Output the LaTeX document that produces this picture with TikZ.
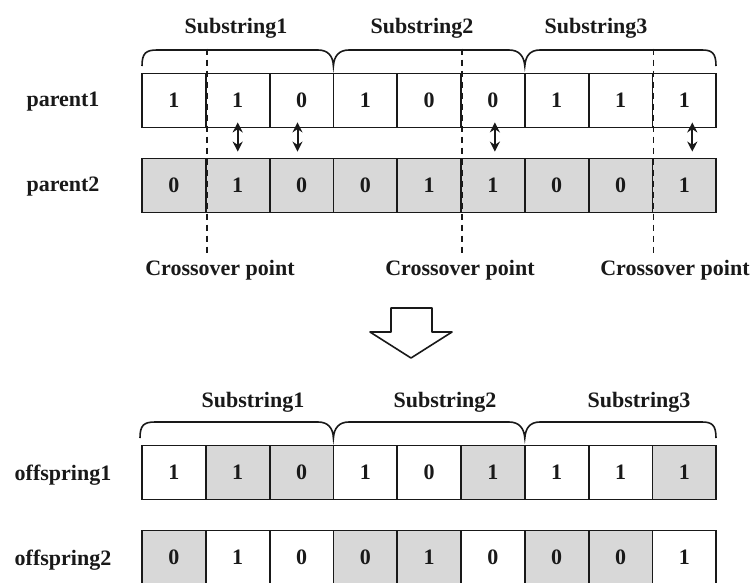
\documentclass[tikz,border=0pt]{standalone}
\usepackage{fontspec}
\setmainfont{Liberation Serif}
\usetikzlibrary{arrows.meta}
\definecolor{shade}{RGB}{216,216,216}
\definecolor{ink}{RGB}{25,25,25}
\begin{document}
\begin{tikzpicture}[x=1pt,y=-1pt,
  txt/.style={font=\fontsize{22}{26}\selectfont\bfseries, inner sep=0pt, text=ink},
  cell/.style={txt, draw=ink, line width=1.8pt, minimum width=63.8pt, minimum height=54pt},
  brace/.style={draw=ink, line width=1.6pt},
  dline/.style={draw=ink, line width=1.6pt, dash pattern=on 6pt off 5pt},
  swap/.style={draw=ink, line width=2pt, {Stealth[length=10pt,width=10pt]}-{Stealth[length=10pt,width=10pt]}}
]
\useasboundingbox[fill=white] (0,0) rectangle (754,582);

% row labels
\node[txt] (lp1) at (63,102) {parent1};
\node[txt] (lp2) at (63,187) {parent2};
\node[txt] (lo1) at (63,475) {offspring1};
\node[txt] (lo2) at (63,560) {offspring2};

% cells
\foreach \v [count=\i] in {1,1,0,1,0,0,1,1,1}
  \node[cell, fill=white] (p1c\i) at ({142+63.8*(\i-0.5)},100.5) {\v};
\foreach \v [count=\i] in {0,1,0,0,1,1,0,0,1}
  \node[cell, fill=shade] (p2c\i) at ({142+63.8*(\i-0.5)},185.5) {\v};
\foreach \v/\g [count=\i] in {1/white,1/shade,0/shade,1/white,0/white,1/shade,1/white,1/white,1/shade}
  \node[cell, fill=\g] (o1c\i) at ({142+63.8*(\i-0.5)},472.5) {\v};
\foreach \v/\g [count=\i] in {0/shade,1/white,0/white,0/shade,1/shade,0/white,0/shade,0/shade,1/white}
  \node[cell, fill=\g] (o2c\i) at ({142+63.8*(\i-0.5)},557.5) {\v};

% crossover dashed lines
\draw[dline] ([yshift=24pt]p1c1.north east) -- ([yshift=-42pt]p2c1.south east);
\draw[dline] ([yshift=24pt]p1c5.north east) -- ([yshift=-42pt]p2c5.south east);
\draw[dline] ([yshift=24pt]p1c8.north east) -- ([yshift=-42pt]p2c8.south east);

% swap arrows
\draw[swap] ([xshift=0pt,yshift=6pt]p1c2.south) -- ([xshift=0pt,yshift=6pt]p2c2.north);
\draw[swap] ([xshift=-4pt,yshift=6pt]p1c3.south) -- ([xshift=-4pt,yshift=6pt]p2c3.north);
\draw[swap] ([xshift=2pt,yshift=6pt]p1c6.south) -- ([xshift=2pt,yshift=6pt]p2c6.north);
\draw[swap] ([xshift=8pt,yshift=6pt]p1c9.south) -- ([xshift=8pt,yshift=6pt]p2c9.north);

% crossover labels
\node[txt] (cp1) at (220,270) {Crossover point};
\node[txt] (cp2) at (460,270) {Crossover point};
\node[txt] (cp3) at (675,270) {Crossover point};

% top braces and substring labels
\draw[brace] (142,66) .. controls (142,53) and (146,50) .. (157,50) -- (318,50)
  .. controls (328,50) and (333,56) .. (333.4,66)
  .. controls (334,56) and (339,50) .. (349,50) -- (509,50)
  .. controls (519,50) and (524,56) .. (524.8,66)
  .. controls (525.5,56) and (530,50) .. (540,50) -- (702,50)
  .. controls (712,50) and (716,53) .. (716,66);
\node[txt] (s1t) at (236,28) {Substring1};
\node[txt] (s2t) at (422,28) {Substring2};
\node[txt] (s3t) at (596,28) {Substring3};

% big hollow arrow
\draw[draw=ink, line width=1.6pt, fill=white, line join=round]
  (391,308) -- (432,308) -- (432,332) -- (452,332) -- (411,358) -- (370,332) -- (391,332) -- cycle;

% bottom braces and substring labels
\begin{scope}[yshift=-372pt]
\draw[brace] (140,66) .. controls (140,53) and (144,50) .. (155,50) -- (318,50)
  .. controls (328,50) and (333,56) .. (333.4,66)
  .. controls (334,56) and (339,50) .. (349,50) -- (509,50)
  .. controls (519,50) and (524,56) .. (524.8,66)
  .. controls (525.5,56) and (530,50) .. (540,50) -- (702,50)
  .. controls (712,50) and (716,53) .. (716,66);
\end{scope}
\node[txt] (s1b) at (253,402) {Substring1};
\node[txt] (s2b) at (445,402) {Substring2};
\node[txt] (s3b) at (639,402) {Substring3};
\end{tikzpicture}
\end{document}
